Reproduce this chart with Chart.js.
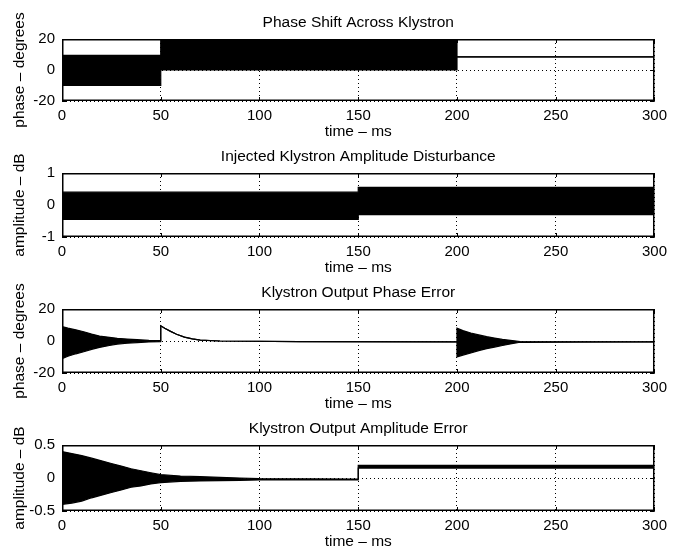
<!DOCTYPE html>
<html lang="en">
<head>
<meta charset="UTF-8">
<title>Klystron phase / amplitude disturbance and output error</title>
<script src="https://cdn.jsdelivr.net/npm/chart.js@4"></script>
<style>
  html, body { margin: 0; padding: 0; background: #fff; overflow: hidden; }
  body { width: 673px; height: 548px; position: relative; }
  .panel { position: absolute; left: 0; }
</style>
</head>
<body>
<canvas id="p1" class="panel"></canvas>
<canvas id="p2" class="panel"></canvas>
<canvas id="p3" class="panel"></canvas>
<canvas id="p4" class="panel"></canvas>

<script>
  // the traces are dense oscillations, so each one is kept as its upper and lower
  // envelope (where hi == lo it is a single line)

  // 1) phase shift across klystron, degrees
  const t1 = [0, 50, 50, 200, 200, 300];
  const phaseShiftHi = [9.5, 9.5, 19.5, 19.5, 8.5, 8.5];
  const phaseShiftLo = [-10, -10, 0, 0, 8.5, 8.5];

  // 2) injected klystron amplitude disturbance, dB
  const t2 = [0, 150, 150, 300];
  const ampDistHi = [0.4, 0.4, 0.55, 0.55];
  const ampDistLo = [-0.45, -0.45, -0.3, -0.3];

  // 3) klystron output phase error, degrees
  const t3 = [0, 3, 7, 11, 15, 19, 24, 28, 33, 38, 44, 50,
              50, 52, 55, 58, 62, 66, 70, 80, 120, 200,
              200, 203, 207, 211, 215, 219, 223, 227, 232, 300];
  const phaseErrHi = [9, 8, 7, 5.8, 4.3, 3.1, 2.3, 1.7, 1.2, 0.8, 0.4, 0.2,
                      9.5, 8, 6, 4.2, 2.4, 1.3, 0.6, 0, -0.4, -0.5,
                      8, 6.5, 5, 3.8, 2.7, 1.8, 1, 0.4, -0.3, -0.5];
  const phaseErrLo = [-11, -9.5, -8, -6.7, -5.2, -4, -2.8, -1.9, -1.4, -1, -0.6, -0.4,
                      9.5, 8, 6, 4.2, 2.4, 1.3, 0.6, 0, -0.4, -0.5,
                      -10, -8.8, -7.5, -6, -4.8, -3.8, -2.8, -1.8, -0.8, -0.5];

  // 4) klystron output amplitude error, dB
  const t4 = [0, 5, 10, 15, 20, 25, 30, 35, 40, 45, 50, 60, 70, 80, 90, 100, 150, 150, 300];
  const ampErrHi = [0.4, 0.37, 0.34, 0.3, 0.26, 0.22, 0.18, 0.14, 0.11, 0.08, 0.05, 0.03, 0.02, 0.01, 0, -0.01, -0.015, 0.19, 0.19];
  const ampErrLo = [-0.4, -0.38, -0.35, -0.3, -0.26, -0.22, -0.18, -0.14, -0.12, -0.09, -0.07, -0.05, -0.045, -0.04, -0.035, -0.03, -0.03, 0.15, 0.15];

  const FONT = "'Liberation Sans', Arial, Helvetica, sans-serif";
  const TITLE_H = 30;   // space above the box
  const XAXIS_H = 44;   // space below the box

  // matlab style box with inward ticks
  const frame = {
    id: 'frame',
    afterDraw(chart) {
      const { ctx, chartArea: a, scales: { x, y } } = chart;
      ctx.save();
      ctx.strokeStyle = '#000';
      ctx.lineWidth = 1.5;
      ctx.strokeRect(a.left + 0.75, a.top + 0.75, a.right - a.left - 1.5, a.bottom - a.top - 1.5);
      ctx.lineWidth = 1;
      ctx.beginPath();
      x.ticks.forEach(t => {
        const px = Math.round(x.getPixelForValue(t.value)) + 0.5;
        ctx.moveTo(px, a.bottom); ctx.lineTo(px, a.bottom - 4);
        ctx.moveTo(px, a.top); ctx.lineTo(px, a.top + 4);
      });
      y.ticks.forEach(t => {
        const py = Math.round(y.getPixelForValue(t.value)) + 0.5;
        ctx.moveTo(a.left, py); ctx.lineTo(a.left + 4, py);
        ctx.moveTo(a.right, py); ctx.lineTo(a.right - 4, py);
      });
      ctx.stroke();
      ctx.restore();
    }
  };

  const makePanel = (id, boxTop, boxH, title, yTitle, yMin, yMax, yStep, t, hi, lo) => {
    const canvas = document.getElementById(id);
    canvas.width = 673;
    canvas.height = TITLE_H + boxH + XAXIS_H;
    canvas.style.top = (boxTop - TITLE_H) + 'px';

    new Chart(canvas, {
      type: 'line',
      data: {
        datasets: [
          {
            data: t.map((x, i) => ({ x, y: hi[i] })),
            borderColor: '#000', borderWidth: 1.2, pointRadius: 0, fill: false
          },
          {
            data: t.map((x, i) => ({ x, y: lo[i] })),
            borderColor: '#000', borderWidth: 1.2, pointRadius: 0,
            fill: '-1', backgroundColor: '#000'
          }
        ]
      },
      options: {
        responsive: false,
        animation: false,
        devicePixelRatio: 1,
        layout: { padding: { left: 0, right: 15, top: 0, bottom: 0 } },
        plugins: {
          legend: { display: false },
          tooltip: { enabled: false },
          title: {
            display: true,
            fullSize: false,   // centre over the plot box, as matlab does
            text: title,
            color: '#000',
            font: { family: FONT, size: 15.5, weight: 'normal', lineHeight: 1.2 },
            padding: { top: 4.7, bottom: 6.7 }
          }
        },
        scales: {
          x: {
            type: 'linear',
            min: 0, max: 300,
            afterFit: s => { s.height = XAXIS_H; },
            ticks: { stepSize: 50, color: '#000', padding: 6, maxRotation: 0,
                     font: { family: FONT, size: 15 } },
            grid: { color: '#000', lineWidth: 1, drawTicks: false },
            border: { display: false, dash: [1, 3] },
            title: { display: true, text: 'time – ms', color: '#000',
                     font: { family: FONT, size: 15.5, lineHeight: 1.2 },
                     padding: { top: 0, bottom: 3.7 } }
          },
          y: {
            min: yMin, max: yMax,
            afterFit: s => { s.width = 62; },
            ticks: { stepSize: yStep, color: '#000', padding: 7,
                     font: { family: FONT, size: 15 } },
            grid: { color: '#000', lineWidth: 1, drawTicks: false },
            border: { display: false, dash: [1, 3] },
            title: { display: true, text: yTitle, color: '#000',
                     font: { family: FONT, size: 15.5, lineHeight: 1.2 },
                     padding: { top: 10.7, bottom: 0 } }
          }
        }
      },
      plugins: [frame]
    });
  };

  makePanel('p1', 39, 62, 'Phase Shift Across Klystron', 'phase – degrees',
            -20, 20, 20, t1, phaseShiftHi, phaseShiftLo);
  makePanel('p2', 173, 64, 'Injected Klystron Amplitude Disturbance', 'amplitude – dB',
            -1, 1, 1, t2, ampDistHi, ampDistLo);
  makePanel('p3', 309, 64, 'Klystron Output Phase Error', 'phase – degrees',
            -20, 20, 20, t3, phaseErrHi, phaseErrLo);
  makePanel('p4', 445, 66, 'Klystron Output Amplitude Error', 'amplitude – dB',
            -0.5, 0.5, 0.5, t4, ampErrHi, ampErrLo);
</script>
</body>
</html>
